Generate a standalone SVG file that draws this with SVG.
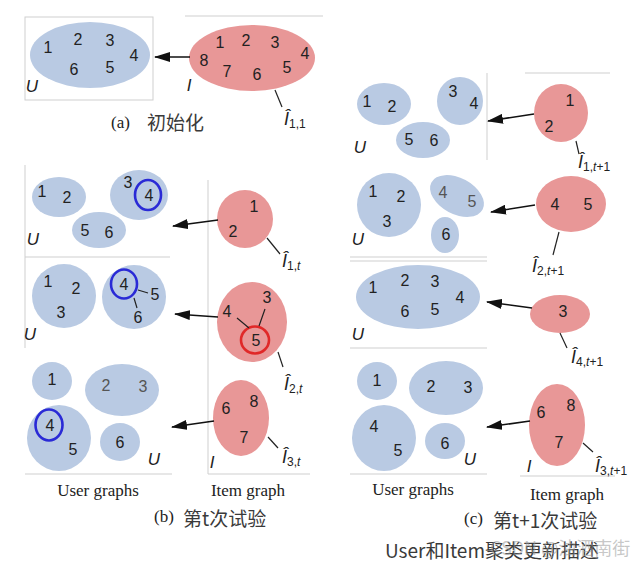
<svg xmlns="http://www.w3.org/2000/svg" width="644" height="569" viewBox="0 0 644 569">
<style>
.u{fill:#b9cae3}
.r{fill:#e89797}
.n{font-family:"Liberation Sans",Arial,sans-serif;font-size:16px;fill:#222;text-anchor:middle}
.g{fill:#555}
.it{font-family:"Liberation Sans",Arial,sans-serif;font-size:17px;font-style:italic;fill:#222;text-anchor:middle}
.lb{font-family:"Liberation Sans",Arial,sans-serif;font-size:18px;font-style:italic;fill:#222}
.sb{font-size:12px;font-style:normal}
.fr{stroke:#cfcfcf;stroke-width:1;fill:none}
.bc{fill:none;stroke:#2a2ad6;stroke-width:2.6}
.rc{fill:none;stroke:#e02828;stroke-width:2.6}
.ln{stroke:#222;stroke-width:1.2;fill:none}
.ar{stroke:#111;stroke-width:1.6;fill:none;marker-end:url(#ah)}
.cap{font-family:"Liberation Serif","Times New Roman",serif;font-size:17px;fill:#222}
.cjk{font-family:"Noto Sans CJK SC",sans-serif;font-size:19px;fill:#3a3a3a}
</style>
<defs>
<marker id="ah" viewBox="0 0 16 10" refX="15" refY="5" markerWidth="16" markerHeight="10" markerUnits="userSpaceOnUse" orient="auto">
<path d="M0,0 L16,5 L0,10 z" fill="#111"/>
</marker>
</defs>
<rect width="644" height="569" fill="#fff"/>

<g id="frames">
<rect class="fr" x="25" y="17" width="128" height="83"/>
<line class="fr" x1="185" y1="16" x2="323" y2="16"/>
<line class="fr" x1="25" y1="165" x2="25" y2="348"/>
<line class="fr" x1="25" y1="257" x2="170" y2="257"/>
<line class="fr" x1="208" y1="180" x2="208" y2="474"/>
<line class="fr" x1="25" y1="474" x2="172" y2="474"/>
<line class="fr" x1="208" y1="474" x2="310" y2="474"/>
<line class="fr" x1="487" y1="73" x2="487" y2="160"/>
<line class="fr" x1="525" y1="73" x2="610" y2="73"/>
<line class="fr" x1="350" y1="257" x2="487" y2="257"/>
<line class="fr" x1="350" y1="261" x2="487" y2="261"/>
<line class="fr" x1="350" y1="348" x2="487" y2="348"/>
<line class="fr" x1="350" y1="474" x2="487" y2="474"/>
<line class="fr" x1="520" y1="476" x2="615" y2="476"/>
</g>

<!-- (a) -->
<g id="a-user">
<ellipse class="u" cx="90" cy="55" rx="60" ry="33"/>
<text class="n" x="48" y="53">1</text><text class="n" x="78" y="45">2</text><text class="n" x="110" y="46">3</text>
<text class="n" x="134" y="61">4</text><text class="n" x="74" y="75">6</text><text class="n" x="110" y="73">5</text>
<text class="it" x="32" y="92">U</text>
</g>
<g id="a-item">
<ellipse class="r" cx="252" cy="58" rx="63" ry="33"/>
<text class="n" x="220" y="48">1</text><text class="n" x="246" y="46">2</text><text class="n" x="275" y="48">3</text>
<text class="n" x="305" y="59">4</text><text class="n" x="204" y="66">8</text><text class="n" x="227" y="77">7</text>
<text class="n" x="257" y="80">6</text><text class="n" x="287" y="73">5</text>
<text class="it" x="189" y="91">I</text>
<text class="lb" x="284" y="125">Î<tspan class="sb" dy="3">1,1</tspan></text>
</g>

<!-- (b) row1 -->
<g id="b1-user">
<ellipse class="u" cx="59" cy="197" rx="27" ry="20"/>
<ellipse class="u" cx="139" cy="195" rx="29" ry="25"/>
<ellipse class="u" cx="99" cy="230" rx="27" ry="18"/>
<text class="n" x="42" y="197">1</text><text class="n" x="67" y="203">2</text>
<text class="n" x="128" y="188">3</text><text class="n" x="149" y="201">4</text>
<ellipse class="bc" cx="148" cy="195" rx="13" ry="15"/>
<text class="n" x="85" y="236">5</text><text class="n" x="109" y="238">6</text>
<text class="it" x="33" y="245">U</text>
</g>
<g id="b1-item">
<ellipse class="r" cx="245" cy="219" rx="28" ry="29"/>
<text class="n" x="254" y="212">1</text><text class="n" x="233" y="237">2</text>
<text class="lb" x="282" y="267">Î<tspan class="sb" dy="3">1,<tspan font-style="italic">t</tspan></tspan></text>
</g>

<!-- (b) row2 -->
<g id="b2-user">
<circle class="u" cx="64" cy="296" r="32"/>
<circle class="u" cx="134" cy="297" r="32"/>
<text class="n" x="48" y="287">1</text><text class="n" x="76" y="294">2</text><text class="n" x="61" y="318">3</text>
<text class="n" x="124" y="290">4</text>
<ellipse class="bc" cx="124" cy="284" rx="13" ry="14.5"/>
<text class="n" x="155" y="300">5</text><text class="n" x="138" y="323">6</text>
<path class="ln" d="M138,290 L148,293 M134,298 L137,308"/>
<text class="it" x="30" y="340">U</text>
</g>
<g id="b2-item">
<ellipse class="r" cx="252" cy="322" rx="35" ry="40"/>
<text class="n" x="227" y="317">4</text><text class="n" x="267" y="303">3</text>
<text class="n" x="256" y="346">5</text>
<ellipse class="rc" cx="255" cy="340" rx="14" ry="13.5"/>
<path class="ln" d="M237,318 L249,328 M265,309 L259,326"/>
<text class="lb" x="284" y="390">Î<tspan class="sb" dy="3">2,<tspan font-style="italic">t</tspan></tspan></text>
</g>

<!-- (b) row3 -->
<g id="b3-user">
<ellipse class="u" cx="52" cy="381" rx="20" ry="19"/>
<ellipse class="u" cx="122" cy="390" rx="37" ry="26"/>
<ellipse class="u" cx="59" cy="438" rx="32" ry="33"/>
<ellipse class="u" cx="120" cy="442" rx="20" ry="19"/>
<text class="n" x="52" y="385">1</text>
<text class="n g" x="106" y="391">2</text><text class="n g" x="143" y="392">3</text>
<text class="n" x="50" y="431">4</text>
<ellipse class="bc" cx="49" cy="425" rx="13.5" ry="15.5"/>
<text class="n" x="73" y="455">5</text>
<text class="n" x="120" y="448">6</text>
<text class="it" x="154" y="465">U</text>
</g>
<g id="b3-item">
<ellipse class="r" cx="241" cy="418" rx="28" ry="38"/>
<text class="n" x="226" y="414">6</text><text class="n" x="254" y="407">8</text><text class="n" x="244" y="443">7</text>
<text class="it" x="212" y="468">I</text>
<text class="lb" x="282" y="463">Î<tspan class="sb" dy="3">3,<tspan font-style="italic">t</tspan></tspan></text>
</g>

<!-- (c) row1 -->
<g id="c1-user">
<ellipse class="u" cx="384" cy="104" rx="27" ry="21"/>
<ellipse class="u" cx="460" cy="101" rx="23" ry="24"/>
<ellipse class="u" cx="423" cy="140" rx="27" ry="18"/>
<text class="n" x="367" y="107">1</text><text class="n" x="392" y="112">2</text>
<text class="n" x="453" y="97">3</text><text class="n" x="474" y="109">4</text>
<text class="n" x="409" y="145">5</text><text class="n" x="434" y="146">6</text>
<text class="it" x="360" y="153">U</text>
</g>
<g id="c1-item">
<ellipse class="r" cx="561" cy="113" rx="27" ry="29"/>
<text class="n" x="570" y="106">1</text><text class="n" x="549" y="132">2</text>
<text class="lb" x="578" y="168">Î<tspan class="sb" dy="3">1,<tspan font-style="italic">t</tspan>+1</tspan></text>
</g>

<!-- (c) row2 -->
<g id="c2-user">
<circle class="u" cx="389" cy="205" r="32"/>
<ellipse class="u" cx="457" cy="196" rx="29" ry="18" transform="rotate(28 457 196)"/>
<ellipse class="u" cx="445" cy="235" rx="14" ry="18"/>
<text class="n" x="373" y="197">1</text><text class="n" x="401" y="202">2</text><text class="n" x="387" y="227">3</text>
<text class="n g" x="443" y="198">4</text><text class="n g" x="472" y="207">5</text>
<text class="n" x="446" y="240">6</text>
<text class="it" x="358" y="245">U</text>
</g>
<g id="c2-item">
<ellipse class="r" cx="571" cy="204" rx="35" ry="28"/>
<text class="n" x="555" y="210">4</text><text class="n" x="588" y="210">5</text>
<text class="lb" x="532" y="272">Î<tspan class="sb" dy="3">2,<tspan font-style="italic">t</tspan>+1</tspan></text>
</g>

<!-- (c) row3 -->
<g id="c3-user">
<ellipse class="u" cx="418" cy="297" rx="62" ry="32"/>
<text class="n" x="373" y="293">1</text><text class="n" x="405" y="286">2</text><text class="n" x="435" y="287">3</text>
<text class="n" x="460" y="303">4</text><text class="n" x="405" y="317">6</text><text class="n" x="435" y="315">5</text>
<text class="it" x="358" y="340">U</text>
</g>
<g id="c3-item">
<ellipse class="r" cx="560" cy="314" rx="30" ry="19"/>
<text class="n" x="563" y="317">3</text>
<text class="lb" x="571" y="363">Î<tspan class="sb" dy="3">4,<tspan font-style="italic">t</tspan>+1</tspan></text>
</g>

<!-- (c) row4 -->
<g id="c4-user">
<ellipse class="u" cx="377" cy="381" rx="20" ry="19"/>
<ellipse class="u" cx="446" cy="388" rx="37" ry="27"/>
<ellipse class="u" cx="384" cy="438" rx="32" ry="33"/>
<ellipse class="u" cx="445" cy="441" rx="20" ry="18"/>
<text class="n" x="377" y="386">1</text>
<text class="n" x="431" y="392">2</text><text class="n" x="468" y="393">3</text>
<text class="n" x="374" y="432">4</text><text class="n" x="398" y="456">5</text>
<text class="n" x="445" y="449">6</text>
<text class="it" x="470" y="465">U</text>
</g>
<g id="c4-item">
<ellipse class="r" cx="557" cy="425" rx="28" ry="41"/>
<text class="n" x="541" y="418">6</text><text class="n" x="571" y="411">8</text><text class="n" x="559" y="448">7</text>
<text class="it" x="529" y="472">I</text>
<text class="lb" x="595" y="472">Î<tspan class="sb" dy="3">3,<tspan font-style="italic">t</tspan>+1</tspan></text>
</g>

<g id="connectors">
<line class="ar" x1="190" y1="57" x2="155" y2="57"/>
<line class="ar" x1="218" y1="220" x2="173" y2="226"/>
<line class="ar" x1="218" y1="317" x2="175" y2="314"/>
<line class="ar" x1="214" y1="421" x2="172" y2="427"/>
<line class="ar" x1="534" y1="114" x2="488" y2="121"/>
<line class="ar" x1="535" y1="205" x2="491" y2="212"/>
<line class="ar" x1="532" y1="308" x2="487" y2="302"/>
<line class="ar" x1="530" y1="421" x2="487" y2="427"/>
<path class="ln" d="M275,90 L282,107"/>
<path class="ln" d="M267,238 L280,254"/>
<path class="ln" d="M278,352 L283,367"/>
<path class="ln" d="M268,437 L278,448"/>
<path class="ln" d="M576,141 L579,154"/>
<path class="ln" d="M559,232 L553,255"/>
<path class="ln" d="M560,333 L567,348"/>
<path class="ln" d="M583,443 L593,452"/>
</g>

<g id="captions">
<text class="cap" x="111" y="128">(a)</text>
<text class="cjk" x="147" y="130">初始化</text>
<text class="cap" x="98" y="496" text-anchor="middle">User graphs</text>
<text class="cap" x="248" y="496" text-anchor="middle">Item graph</text>
<text class="cap" x="154" y="522">(b)</text>
<text class="cjk" x="183" y="526">第t次试验</text>
<text class="cap" x="413" y="495" text-anchor="middle">User graphs</text>
<text class="cap" x="567" y="500" text-anchor="middle">Item graph</text>
<text class="cap" x="464" y="524">(c)</text>
<text class="cjk" x="493" y="528">第t+1次试验</text>
<text class="cjk" x="385" y="558" fill="#222">User和Item聚类更新描述</text>
<text x="490" y="555" font-family="Noto Sans CJK SC,sans-serif" font-size="18" fill="#999" fill-opacity="0.55">CSDN @油酒南街</text>
</g>
</svg>
